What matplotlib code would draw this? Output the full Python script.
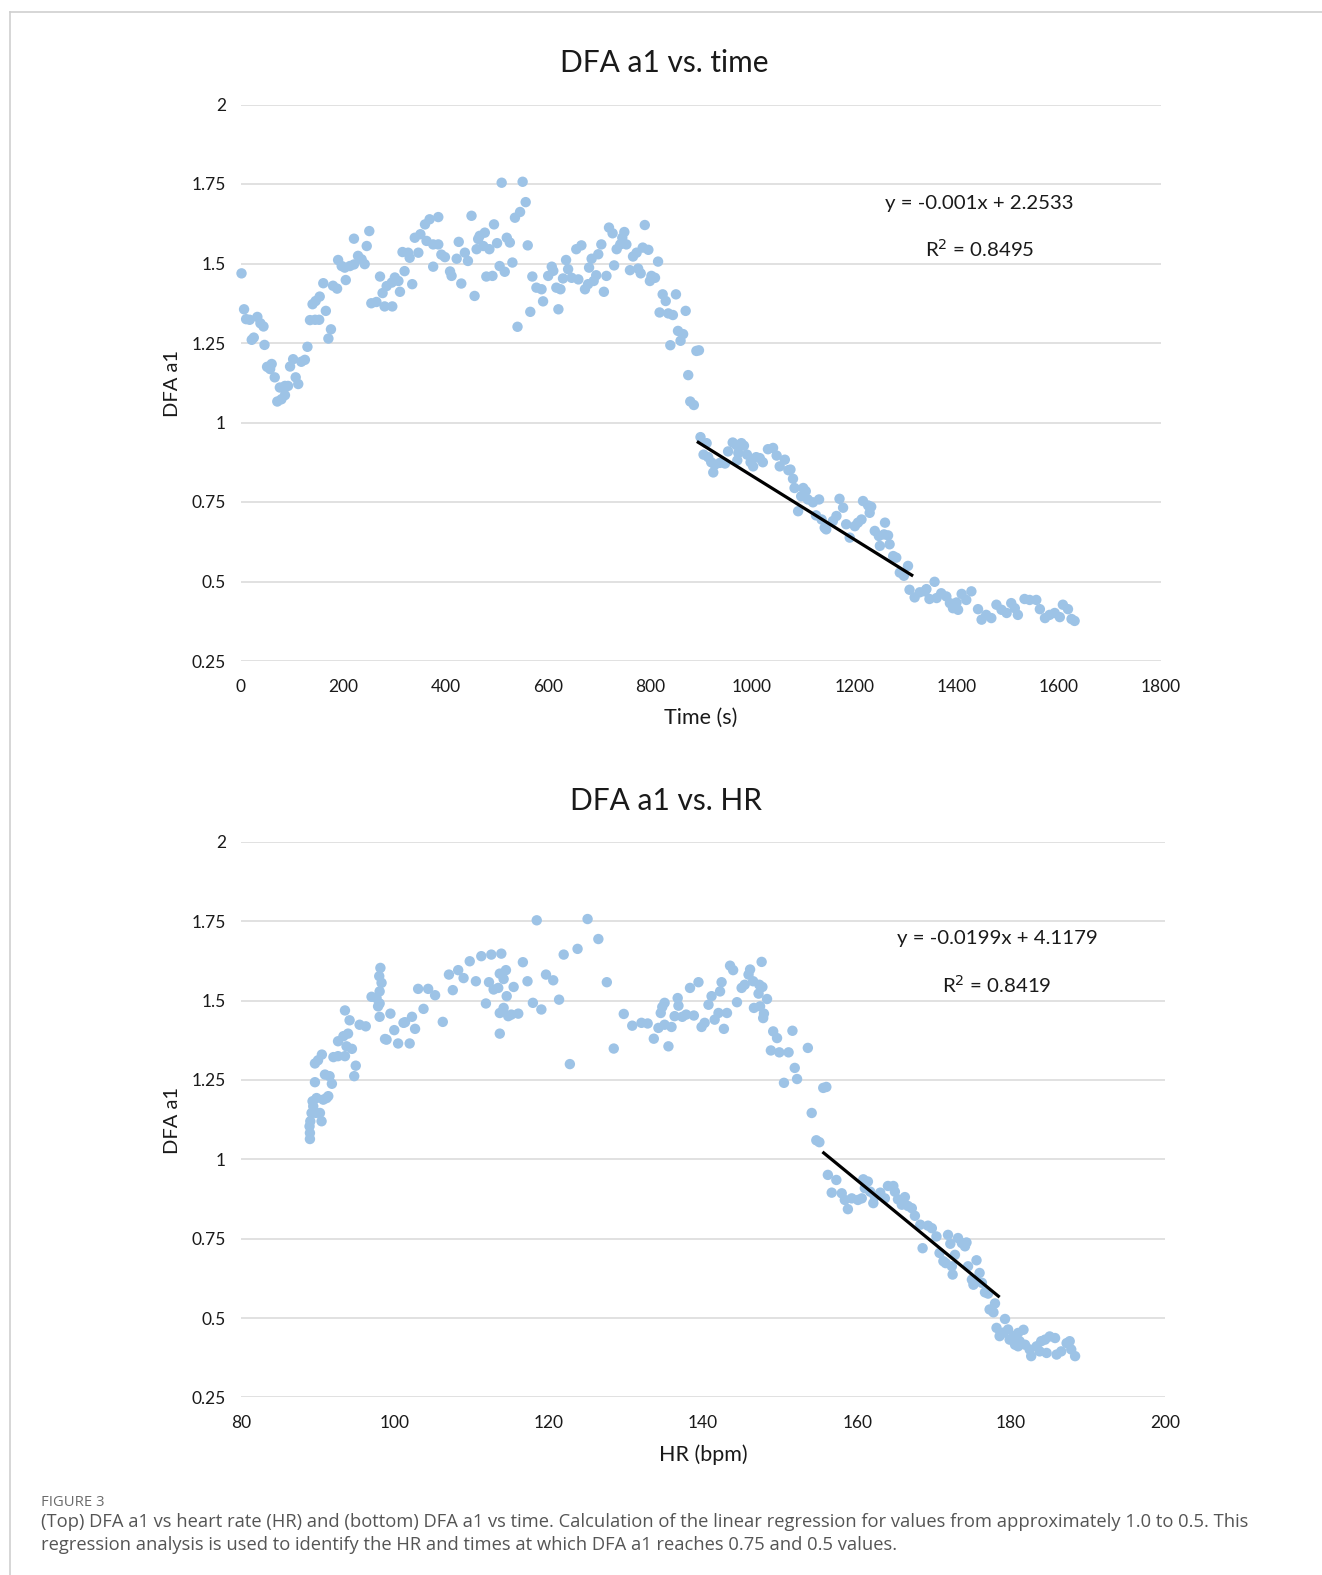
import numpy as np
import matplotlib
matplotlib.use("Agg")
import matplotlib.pyplot as plt
from matplotlib.lines import Line2D
from matplotlib.ticker import FuncFormatter

# ---- DFA a1 over time (s) ----
time_s = [
    1, 6, 10, 17, 32, 38, 44, 21, 25, 46, 51, 60, 57, 66, 76, 86, 71, 79, 86, 92,
    96, 102, 107, 112, 118, 125, 130, 135, 145, 153, 166, 171, 176, 140, 146, 154, 161, 180, 188, 205,
    190, 197, 203, 213, 221, 229, 236, 242, 221, 246, 251, 255, 265, 272, 277, 281, 296, 285, 295, 301,
    308, 311, 320, 316, 327, 330, 335, 340, 347, 351, 360, 369, 386, 363, 376, 376, 386, 392, 399, 409,
    412, 422, 426, 431, 438, 444, 451, 457, 461, 464,
    510, 551, 557, 546, 536, 495, 477, 467, 520, 526, 501, 486, 474, 561, 506, 516, 531, 480, 492, 541,
    570, 578, 588, 591, 566, 601, 608, 611, 617, 625, 621, 636, 640, 630, 647, 660, 656, 666, 673, 679,
    690, 695, 681, 686, 699, 705, 710, 715, 720, 727, 730, 735, 742, 750, 746, 754, 761, 767, 774, 777,
    782, 786, 797, 790, 816, 803, 810, 800, 825, 831, 851, 819, 836, 845, 870, 855, 865, 860, 840, 891,
    896, 875, 879, 886,
    899, 911, 905, 914, 920, 927, 924, 937, 947, 953, 962, 969, 979, 984, 973, 971, 990, 997, 1002, 1008,
    1015, 1021, 1031, 1041, 1048, 1054, 1064, 1071, 1075, 1080, 1083, 1100, 1105, 1090, 1096, 1109, 1119, 1131, 1125, 1136,
    1142, 1145, 1158, 1165, 1171, 1178, 1184, 1191, 1201, 1207, 1214, 1217, 1227, 1233, 1230, 1240, 1248, 1258, 1260, 1266,
    1250, 1269, 1276, 1282, 1289, 1297, 1305, 1308, 1318, 1328, 1341, 1347, 1357,
    1338, 1361, 1370, 1380, 1387, 1393, 1400, 1410, 1403, 1429, 1419, 1442, 1449, 1458, 1468, 1478, 1488, 1498, 1507, 1514,
    1520, 1533, 1543, 1556, 1563, 1573, 1582, 1592, 1602, 1608, 1618, 1625, 1631,
]
dfa_time = [
    1.469, 1.356, 1.325, 1.323, 1.332, 1.312, 1.302, 1.260, 1.267, 1.244, 1.175, 1.184, 1.168, 1.142, 1.110, 1.115, 1.066, 1.073, 1.086, 1.115,
    1.176, 1.199, 1.142, 1.121, 1.191, 1.197, 1.238, 1.322, 1.323, 1.323, 1.351, 1.264, 1.293, 1.372, 1.382, 1.396, 1.438, 1.430, 1.421, 1.448,
    1.511, 1.492, 1.487, 1.492, 1.497, 1.524, 1.513, 1.498, 1.578, 1.555, 1.602, 1.375, 1.379, 1.459, 1.407, 1.365, 1.365, 1.429, 1.440, 1.456,
    1.445, 1.411, 1.476, 1.536, 1.534, 1.518, 1.435, 1.581, 1.534, 1.592, 1.623, 1.639, 1.646, 1.571, 1.560, 1.490, 1.560, 1.528, 1.520, 1.475,
    1.461, 1.515, 1.568, 1.437, 1.534, 1.508, 1.650, 1.398, 1.545, 1.577,
    1.754, 1.757, 1.693, 1.662, 1.644, 1.623, 1.597, 1.587, 1.581, 1.566, 1.564, 1.545, 1.555, 1.557, 1.492, 1.474, 1.503, 1.459, 1.461, 1.301,
    1.459, 1.424, 1.419, 1.381, 1.348, 1.461, 1.490, 1.477, 1.424, 1.419, 1.356, 1.511, 1.482, 1.453, 1.455, 1.450, 1.545, 1.557, 1.419, 1.435,
    1.445, 1.463, 1.487, 1.515, 1.529, 1.560, 1.411, 1.461, 1.613, 1.595, 1.494, 1.545, 1.560, 1.599, 1.581, 1.560, 1.479, 1.522, 1.534, 1.484,
    1.469, 1.550, 1.543, 1.621, 1.506, 1.461, 1.455, 1.445, 1.403, 1.382, 1.403, 1.346, 1.343, 1.338, 1.351, 1.288, 1.278, 1.257, 1.243, 1.225,
    1.227, 1.149, 1.066, 1.055,
    0.954, 0.935, 0.899, 0.891, 0.875, 0.867, 0.843, 0.873, 0.871, 0.909, 0.937, 0.929, 0.935, 0.927, 0.904, 0.881, 0.899, 0.875, 0.862, 0.891,
    0.888, 0.875, 0.916, 0.920, 0.896, 0.862, 0.883, 0.850, 0.852, 0.823, 0.794, 0.794, 0.784, 0.721, 0.768, 0.758, 0.749, 0.758, 0.708, 0.695,
    0.669, 0.664, 0.690, 0.706, 0.760, 0.732, 0.680, 0.638, 0.674, 0.685, 0.695, 0.753, 0.739, 0.735, 0.716, 0.659, 0.643, 0.648, 0.685, 0.645,
    0.612, 0.617, 0.580, 0.575, 0.528, 0.518, 0.549, 0.474, 0.450, 0.466, 0.476, 0.445, 0.499,
    0.469, 0.448, 0.463, 0.453, 0.432, 0.416, 0.434, 0.461, 0.411, 0.469, 0.442, 0.413, 0.380, 0.395, 0.385, 0.427, 0.411, 0.401, 0.432, 0.416,
    0.395, 0.445, 0.442, 0.442, 0.413, 0.385, 0.395, 0.401, 0.388, 0.427, 0.413, 0.382, 0.376,
]

# ---- DFA a1 over heart rate (bpm) ----
hr_bpm = [
    88.95, 88.95, 88.9, 89.0, 89.16, 89.38, 89.29, 89.81, 89.73, 90.25, 90.46, 90.68, 91.11, 91.33, 89.6, 90.9, 91.5, 91.8, 89.6, 90.0,
    90.5, 92.0, 92.6, 93.5, 92.6, 93.3, 93.9, 93.7, 94.4, 93.5, 94.1, 94.9, 94.7, 95.4, 96.2, 96.95, 97.6, 98.0, 97.8, 98.1,
    97.95, 98.25, 98.0, 98.0, 98.7, 98.9, 99.4, 99.9, 100.4, 101.1, 101.3, 101.9, 102.2, 102.6, 103.0, 104.3, 105.2, 103.7, 106.2, 107.0,
    107.5, 108.2, 108.9, 109.7, 110.5, 111.2, 112.5, 113.8, 111.8, 112.2, 112.8, 113.4, 113.6, 114.4, 114.1, 113.6, 114.1, 114.5, 114.7, 115.1,
    116.0, 113.6, 115.4, 116.6, 117.2, 117.9, 118.4, 119.0, 119.6,
    120.54, 121.3, 121.9, 123.7, 122.7, 125.0, 126.4, 127.5, 128.4, 129.7, 130.8, 132.0, 132.8, 133.6, 134.2, 135.0, 135.9, 134.5, 134.7, 135.0,
    135.5, 136.3, 136.8, 136.7, 137.3, 137.8, 138.8, 138.3, 139.4, 139.8, 140.2, 140.7, 141.1, 142.2, 142.4, 141.5, 142.0, 143.1, 142.7, 143.5,
    143.9, 144.4, 145.0, 145.4, 145.9, 146.1, 146.5, 147.3, 147.7, 147.6, 147.2, 146.6, 147.4, 147.9, 147.8, 148.3, 149.1, 149.6, 148.8, 149.9,
    151.1, 151.6, 150.5, 151.9, 152.2,
    153.6, 154.1, 154.7, 155.1, 155.6, 156.0,
    156.2, 157.3, 156.7, 158.0, 158.4, 158.8, 159.3, 160.1, 160.6, 160.8, 161.4, 161.0, 161.7, 162.1, 162.3, 163.0, 163.6, 164.0, 164.7, 164.9,
    165.3, 165.8, 166.2, 166.6, 167.1, 167.5, 168.2, 168.5, 169.2, 169.7, 170.3, 170.7, 171.2, 171.5, 171.8, 172.1, 172.4, 172.3, 172.7, 173.1,
    173.6, 174.0, 174.2, 174.4, 174.9, 175.1, 175.5, 175.9, 176.2, 176.6, 177.0, 177.2, 177.7, 177.9, 179.2, 178.1, 178.5, 179.0, 179.6, 179.8,
    180.3, 180.7, 180.9,
    180.9, 181.6, 180.5, 181.1, 181.8, 182.4, 182.6, 183.3, 183.9, 184.4, 185.0, 185.7, 183.7, 184.6, 185.9, 186.5, 187.2, 187.6, 187.8, 188.3,
]
dfa_hr = [
    1.064, 1.083, 1.104, 1.120, 1.146, 1.167, 1.183, 1.193, 1.146, 1.146, 1.120, 1.188, 1.193, 1.199, 1.243, 1.267, 1.262, 1.238, 1.302, 1.312,
    1.330, 1.322, 1.325, 1.325, 1.372, 1.388, 1.396, 1.356, 1.348, 1.469, 1.438, 1.295, 1.262, 1.424, 1.419, 1.512, 1.508, 1.491, 1.482, 1.603,
    1.577, 1.556, 1.529, 1.449, 1.379, 1.377, 1.459, 1.407, 1.365, 1.430, 1.432, 1.365, 1.449, 1.411, 1.537, 1.537, 1.517, 1.474, 1.433, 1.582,
    1.533, 1.596, 1.571, 1.624, 1.561, 1.640, 1.645, 1.648, 1.491, 1.558, 1.535, 1.540, 1.585, 1.596, 1.568, 1.461, 1.477, 1.514, 1.451, 1.456,
    1.459, 1.396, 1.543, 1.621, 1.561, 1.493, 1.753, 1.472, 1.582,
    1.564, 1.503, 1.645, 1.663, 1.300, 1.757, 1.694, 1.558, 1.349, 1.458, 1.421, 1.430, 1.428, 1.380, 1.414, 1.424, 1.417, 1.461, 1.480, 1.493,
    1.356, 1.451, 1.484, 1.508, 1.449, 1.456, 1.453, 1.540, 1.558, 1.417, 1.430, 1.487, 1.514, 1.529, 1.558, 1.440, 1.461, 1.461, 1.411, 1.610,
    1.596, 1.495, 1.540, 1.550, 1.582, 1.598, 1.561, 1.550, 1.543, 1.622, 1.522, 1.477, 1.482, 1.459, 1.445, 1.505, 1.403, 1.382, 1.343, 1.337,
    1.337, 1.405, 1.241, 1.288, 1.253,
    1.351, 1.146, 1.060, 1.054, 1.225, 1.228,
    0.951, 0.935, 0.895, 0.893, 0.872, 0.843, 0.877, 0.872, 0.877, 0.937, 0.930, 0.909, 0.898, 0.862, 0.883, 0.895, 0.877, 0.916, 0.916, 0.898,
    0.874, 0.857, 0.881, 0.853, 0.846, 0.822, 0.794, 0.720, 0.791, 0.783, 0.757, 0.705, 0.679, 0.673, 0.762, 0.734, 0.637, 0.663, 0.699, 0.752,
    0.736, 0.726, 0.738, 0.663, 0.621, 0.605, 0.682, 0.642, 0.611, 0.581, 0.577, 0.527, 0.518, 0.546, 0.497, 0.469, 0.443, 0.454, 0.464, 0.432,
    0.443, 0.422, 0.411,
    0.453, 0.463, 0.416, 0.427, 0.416, 0.401, 0.380, 0.411, 0.427, 0.432, 0.442, 0.437, 0.395, 0.390, 0.385, 0.395, 0.421, 0.427, 0.401, 0.380,
]

# Regression segments: x-range over which each fit is drawn, and the fitted coefficients.
# The time regression was computed on the recording clock, which starts 421 s before the plotted time origin.
time_fit_window = (892, 1315)
time_slope, time_intercept = -0.001, 2.2533
time_clock_offset = 421
hr_fit_window = (155.5, 178.5)
hr_slope, hr_intercept = -0.0199, 4.1179
eq_time = ["y = -0.001x + 2.2533", "R$^2$ = 0.8495"]
eq_hr = ["y = -0.0199x + 4.1179", "R$^2$ = 0.8419"]

y_ticks = [0.25, 0.5, 0.75, 1.0, 1.25, 1.5, 1.75, 2.0]
time_ticks = list(range(0, 1801, 200))
hr_ticks = list(range(80, 201, 20))

FONT = ["Lato", "DejaVu Sans"]
CAP_FONT = ["Open Sans", "DejaVu Sans"]
plt.rcParams["font.family"] = FONT
TXT = "#1a1a1a"
DOT = "#9dc3e6"
GRID = "#d9d9d9"

fig = plt.figure(figsize=(13.22, 15.75), dpi=100)
fig.patch.set_facecolor("white")

# thin frame along the left and top edges
fig.add_artist(Line2D([10 / 1322, 10 / 1322], [0, 1 - 12 / 1575], transform=fig.transFigure,
                      color="#cfcfcf", lw=1.2))
fig.add_artist(Line2D([10 / 1322, 1], [1 - 12 / 1575, 1 - 12 / 1575], transform=fig.transFigure,
                      color="#cfcfcf", lw=1.2))


def style_axes(ax, xticks, xlim):
    ax.set_xlim(*xlim)
    ax.set_ylim(0.25, 2.0)
    ax.set_yticks(y_ticks)
    ax.set_xticks(xticks)
    ax.yaxis.set_major_formatter(FuncFormatter(lambda v, p: f"{v:g}"))
    for s in ax.spines.values():
        s.set_visible(False)
    ax.tick_params(length=0, labelsize=12.5, colors=TXT)
    ax.tick_params(axis="y", pad=11)
    ax.tick_params(axis="x", pad=13)
    ax.grid(axis="y", color=GRID, lw=1.1)
    ax.set_axisbelow(True)


# top panel: DFA a1 vs time
ax1 = fig.add_axes([241 / 1322, 1 - 661 / 1575, 920 / 1322, (661 - 104.5) / 1575])
style_axes(ax1, time_ticks, (0, 1800))
ax1.scatter(time_s, dfa_time, s=56, color=DOT, edgecolors="none", zorder=3, clip_on=False)
tx = np.array(time_fit_window, dtype=float)
ax1.plot(tx, time_slope * (tx + time_clock_offset) + time_intercept,
         color="black", lw=2.3, zorder=4, solid_capstyle="butt")

# bottom panel: DFA a1 vs HR
ax2 = fig.add_axes([241 / 1322, 1 - 1397.4 / 1575, 924.2 / 1322, (1397.4 - 841.9) / 1575])
style_axes(ax2, hr_ticks, (80, 200))
ax2.scatter(hr_bpm, dfa_hr, s=56, color=DOT, edgecolors="none", zorder=3, clip_on=False)
hx = np.array(hr_fit_window)
ax2.plot(hx, hr_slope * hx + hr_intercept, color="black", lw=2.3, zorder=4, solid_capstyle="butt")

# titles, axis labels, equations
fig.text(664 / 1322, 1 - 63 / 1575, "DFA a1 vs. time", ha="center", va="center", fontsize=21.5, color=TXT)
fig.text(666 / 1322, 1 - 800.5 / 1575, "DFA a1 vs. HR", ha="center", va="center", fontsize=21.5, color=TXT)
fig.text(701 / 1322, 1 - 718 / 1575, "Time (s)", ha="center", va="center", fontsize=15.5, color=TXT)
fig.text(703 / 1322, 1 - 1455 / 1575, "HR (bpm)", ha="center", va="center", fontsize=15.5, color=TXT)
fig.text(172.8 / 1322, 1 - 383.8 / 1575, "DFA a1", ha="center", va="center", rotation=90, fontsize=14.5, color=TXT)
fig.text(172.8 / 1322, 1 - 1121 / 1575, "DFA a1", ha="center", va="center", rotation=90, fontsize=14.5, color=TXT)

fig.text(979.5 / 1322, 1 - 204 / 1575, eq_time[0], ha="center", va="center", fontsize=14.7, color=TXT)
fig.text(979.5 / 1322, 1 - 249 / 1575, eq_time[1], ha="center", va="center", fontsize=14.7, color=TXT)
fig.text(997 / 1322, 1 - 938.5 / 1575, eq_hr[0], ha="center", va="center", fontsize=14.7, color=TXT)
fig.text(997 / 1322, 1 - 984.5 / 1575, eq_hr[1], ha="center", va="center", fontsize=14.7, color=TXT)

# figure caption
fig.text(41 / 1322, 1 - 1503 / 1575, "FIGURE 3", ha="left", va="center", fontsize=10.7, color="#6b6b6b",
         family=CAP_FONT)
cap1 = ("(Top) DFA a1 vs heart rate (HR) and (bottom) DFA a1 vs time. Calculation of the linear regression "
        "for values from approximately 1.0 to 0.5. This")
cap2 = "regression analysis is used to identify the HR and times at which DFA a1 reaches 0.75 and 0.5 values."
fig.text(41 / 1322, 1 - 1522 / 1575, cap1, ha="left", va="center", fontsize=13.25, color="#555555",
         family=CAP_FONT)
fig.text(41 / 1322, 1 - 1545 / 1575, cap2, ha="left", va="center", fontsize=13.25, color="#555555",
         family=CAP_FONT)

fig.savefig("out.png", dpi=100, facecolor="white")
